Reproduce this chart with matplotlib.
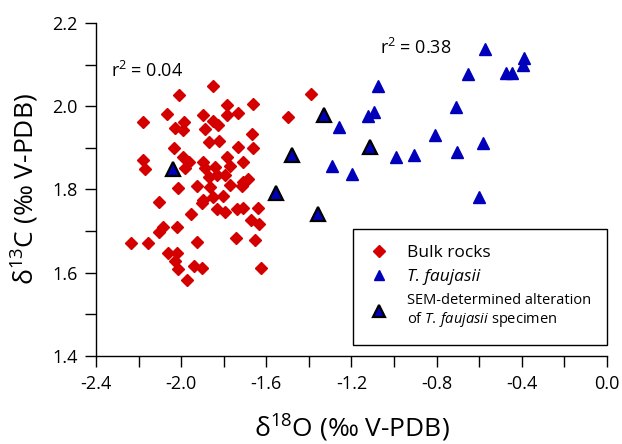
import matplotlib
matplotlib.use("Agg")
from matplotlib import pyplot as plt
from matplotlib.lines import Line2D
from matplotlib.ticker import MultipleLocator

# dados - rochas totais (bulk rocks)
bulk_d18o = [-1.849, -2.009, -1.786, -1.664, -2.068, -1.899, -1.786, -1.735, -2.178, -1.985,
             -1.849, -1.826, -2.029, -1.993, -1.888, -1.666, -1.821, -1.868, -2.032, -1.732,
             -1.662, -1.993, -1.786, -2.178, -2.170, -1.963, -1.896, -1.708, -1.982, -1.888,
             -1.841, -1.771, -1.833, -1.869, -1.794, -1.685, -1.708, -2.016, -1.927, -1.865,
             -1.771, -1.716, -2.104, -1.896, -1.852, -1.805, -1.904, -1.833, -1.794, -1.739,
             -1.708, -1.641, -1.954, -1.672, -1.635, -2.084, -2.103, -2.018, -2.237, -2.154,
             -1.924, -1.744, -1.655, -2.061, -2.021, -2.029, -2.014, -1.939, -1.904, -1.625,
             -1.971, -1.392, -1.497]
bulk_d13c = [2.049, 2.027, 2.003, 2.006, 1.981, 1.978, 1.978, 1.983, 1.961, 1.961,
             1.965, 1.955, 1.947, 1.942, 1.945, 1.934, 1.917, 1.913, 1.899, 1.901,
             1.899, 1.879, 1.879, 1.871, 1.849, 1.865, 1.867, 1.867, 1.851, 1.851,
             1.855, 1.857, 1.835, 1.831, 1.835, 1.825, 1.819, 1.803, 1.809, 1.807,
             1.811, 1.809, 1.771, 1.775, 1.781, 1.785, 1.767, 1.753, 1.747, 1.753,
             1.755, 1.755, 1.741, 1.727, 1.717, 1.711, 1.699, 1.711, 1.672, 1.671,
             1.675, 1.684, 1.679, 1.647, 1.647, 1.629, 1.608, 1.616, 1.612, 1.611,
             1.583, 2.029, 1.974]

# T. faujasii
tf_d18o = [-0.574, -0.389, -0.394, -0.652, -0.472, -0.444, -1.077, -0.707, -1.122, -1.093,
           -1.259, -0.807, -0.582, -0.702, -0.993, -0.906, -1.293, -1.198, -0.602]
tf_d13c = [2.138, 2.116, 2.100, 2.077, 2.080, 2.081, 2.049, 1.999, 1.977, 1.987,
           1.949, 1.930, 1.911, 1.890, 1.878, 1.883, 1.857, 1.837, 1.781]

# alteração determinada por MEV
sem_d18o = [-1.328, -1.480, -1.112, -1.556, -1.356, -2.037]
sem_d13c = [1.979, 1.883, 1.902, 1.791, 1.741, 1.849]

x_ticks = [-2.4, -2.0, -1.6, -1.2, -0.8, -0.4, 0.0]
y_ticks = [1.4, 1.6, 1.8, 2.0, 2.2]

plt.rcParams['font.family'] = ['Open Sans', 'DejaVu Sans']
plt.rcParams['mathtext.fontset'] = 'custom'
plt.rcParams['mathtext.rm'] = 'Open Sans'
plt.rcParams['mathtext.it'] = 'Open Sans:italic'
plt.rcParams['mathtext.default'] = 'regular'

red = '#d40000'
blue = '#0000bb'

fig = plt.figure(figsize=(6.22, 4.44), dpi=100)
ax = fig.add_axes([0.1543, 0.1982, 0.8215, 0.75])

ax.plot(bulk_d18o, bulk_d13c, 'D', color=red, markersize=6.5, mec=red, clip_on=False)
ax.plot(tf_d18o, tf_d13c, '^', color=blue, markersize=8.5, mec=blue, clip_on=False)
ax.plot(sem_d18o, sem_d13c, '^', color=blue, markersize=10, mec='black', mew=1.6, clip_on=False)

ax.set_xlim(-2.4, 0.0)
ax.set_ylim(1.4, 2.2)
ax.set_xticks(x_ticks)
ax.set_xticklabels(['%.1f' % v for v in x_ticks])
ax.set_yticks(y_ticks)
ax.set_yticklabels(['%.1f' % v for v in y_ticks])
ax.xaxis.set_minor_locator(MultipleLocator(0.2))
ax.yaxis.set_minor_locator(MultipleLocator(0.1))
ax.tick_params(which='both', direction='out', length=8, width=1, labelsize=13)
ax.tick_params(axis='x', pad=6)
ax.tick_params(axis='y', pad=5)

for s in ['top', 'right']:
    ax.spines[s].set_visible(False)
for s in ['left', 'bottom']:
    ax.spines[s].set_linewidth(1)

ax.set_xlabel('δ$^{18}$O (‰ V-PDB)', fontsize=19, labelpad=14)
ax.set_ylabel('δ$^{13}$C (‰ V-PDB)', fontsize=19, labelpad=8)

ax.text(-2.16, 2.085, 'r$^{2}$ = 0.04', fontsize=13, ha='center', va='center')
ax.text(-0.90, 2.14, 'r$^{2}$ = 0.38', fontsize=13, ha='center', va='center')

handles = [
    Line2D([], [], ls='', marker='D', color=red, markersize=6),
    Line2D([], [], ls='', marker='^', color=blue, markersize=7),
    Line2D([], [], ls='', marker='^', color=blue, mec='black', mew=1.6, markersize=9),
]
labels = ['Bulk rocks', 'T. faujasii', 'SEM-determined alteration\nof $\\mathit{T.\\,faujasii}$ specimen']
leg = ax.legend(handles, labels, loc='lower right', bbox_to_anchor=(1.0, 0.033),
                borderaxespad=0, fancybox=False, edgecolor='black', framealpha=1,
                fontsize=12.5, borderpad=0.9, handlelength=1.2, handletextpad=1.0,
                labelspacing=0.45)
leg.get_frame().set_linewidth(1)
leg.get_texts()[1].set_fontstyle('italic')
leg.get_texts()[2].set_fontsize(10.5)

fig.savefig('out.png', dpi=100)
